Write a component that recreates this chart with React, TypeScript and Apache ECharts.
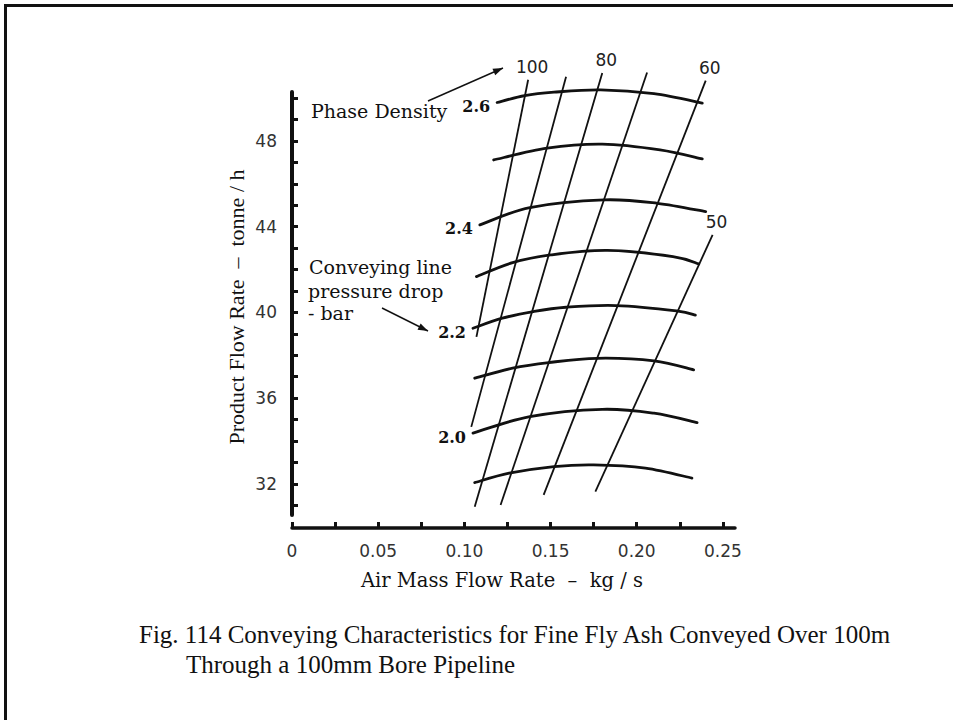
import React, { useEffect, useRef } from "react";
import * as echarts from "echarts";

// Axis ticks and labels
const xTickValues = [0, 0.025, 0.05, 0.075, 0.1, 0.125, 0.15, 0.175, 0.2, 0.225, 0.25];
const xLabelValues = [0, 0.05, 0.1, 0.15, 0.2, 0.25];
const yTickValues = [31, 32, 33, 34, 35, 36, 37, 38, 39, 40, 41, 42, 43, 44, 45, 46, 47, 48, 49, 50];
const yLabelValues = [32, 36, 40, 44, 48];

// Conveying line pressure drop (bar) – one curve per level, [air kg/s, product t/h]
const pressureLevels = [2.6, 2.5, 2.4, 2.3, 2.2, 2.1, 2.0, 1.9];
const labelledPressures = [2.6, 2.4, 2.2, 2.0];
const pressure26 = [[0.119, 49.79], [0.135, 50.11], [0.152, 50.27], [0.179, 50.38], [0.21, 50.2], [0.238, 49.76]];
const pressure25 = [[0.117, 47.11], [0.148, 47.66], [0.18, 47.85], [0.2135, 47.58], [0.238, 47.16]];
const pressure24 = [[0.109, 44.08], [0.138, 44.89], [0.181, 45.25], [0.212, 45.09], [0.24, 44.7]];
const pressure23 = [[0.107, 41.67], [0.128, 42.32], [0.15, 42.68], [0.183, 42.89], [0.221, 42.6], [0.236, 42.26]];
const pressure22 = [[0.105, 39.26], [0.122, 39.73], [0.14, 40.04], [0.159, 40.24], [0.188, 40.32], [0.223, 40.07], [0.234, 39.87]];
const pressure21 = [[0.106, 36.93], [0.128, 37.4], [0.149, 37.66], [0.177, 37.86], [0.21, 37.74], [0.233, 37.32]];
const pressure20 = [[0.105, 34.37], [0.138, 35.14], [0.18, 35.48], [0.21, 35.3], [0.235, 34.86]];
const pressure19 = [[0.106, 32.06], [0.126, 32.5], [0.152, 32.81], [0.175, 32.89], [0.205, 32.74], [0.232, 32.27]];
const pressureCurves = [pressure26, pressure25, pressure24, pressure23, pressure22, pressure21, pressure20, pressure19];

// Phase density lines – bottom and top end points
const phaseDensities = [100, 90, 80, 70, 60, 50];
const labelledDensities = [100, 80, 60, 50];
const density100 = [[0.107, 38.86], [0.137, 50.85]];
const density90 = [[0.104, 34.66], [0.159, 50.99]];
const density80 = [[0.106, 30.94], [0.18, 51.17]];
const density70 = [[0.121, 31.02], [0.206, 51.19]];
const density60 = [[0.146, 31.49], [0.24, 50.81]];
const density50 = [[0.176, 31.64], [0.244, 43.62]];
const densityLines = [density100, density90, density80, density70, density60, density50];

const INK = "#111";
const SERIF = '"DejaVu Serif", serif';
const SANS = '"DejaVu Sans", sans-serif';
const TIMES = '"Liberation Serif", serif';

// Catmull-Rom spline through pixel points, written as cubic Bezier path data
function splinePath(pts: number[][]) {
  const n = pts.length;
  let d = `M${pts[0][0]},${pts[0][1]}`;
  for (let i = 0; i < n - 1; i++) {
    const p0 = pts[Math.max(i - 1, 0)];
    const p1 = pts[i];
    const p2 = pts[i + 1];
    const p3 = pts[Math.min(i + 2, n - 1)];
    const c1x = p1[0] + (p2[0] - p0[0]) / 6;
    const c1y = p1[1] + (p2[1] - p0[1]) / 6;
    const c2x = p2[0] - (p3[0] - p1[0]) / 6;
    const c2y = p2[1] - (p3[1] - p1[1]) / 6;
    d += ` C${c1x},${c1y} ${c2x},${c2y} ${p2[0]},${p2[1]}`;
  }
  return d;
}

function arrowHead(x1: number, y1: number, x2: number, y2: number, len = 10, half = 3.5) {
  const dx = x2 - x1;
  const dy = y2 - y1;
  const l = Math.hypot(dx, dy);
  const ux = dx / l;
  const uy = dy / l;
  const bx = x2 - ux * len;
  const by = y2 - uy * len;
  return [
    [x2, y2],
    [bx - uy * half, by + ux * half],
    [bx + uy * half, by - ux * half],
  ];
}

function arrow(x1: number, y1: number, x2: number, y2: number) {
  return [
    { type: "line", shape: { x1, y1, x2, y2 }, style: { stroke: INK, lineWidth: 1.4 } },
    { type: "polygon", shape: { points: arrowHead(x1, y1, x2, y2) }, style: { fill: INK } },
  ];
}

function text(t: string, x: number, y: number, font: string, align = "left", extra: any = {}) {
  return {
    type: "text",
    x,
    y,
    ...extra,
    style: { text: t, font, fill: INK, textAlign: align, textVerticalAlign: "middle" },
  };
}

export default function App() {
  const ref = useRef<HTMLDivElement>(null);

  useEffect(() => {
    if (!ref.current) return;
    const chart = echarts.init(ref.current, undefined, { renderer: "svg" });

    const pressureSeries = pressureCurves.map((pts, i) => {
      const level = pressureLevels[i];
      const showLabel = labelledPressures.includes(level);
      return {
        type: "custom",
        name: `${level.toFixed(1)} bar`,
        coordinateSystem: "cartesian2d",
        clip: false,
        silent: true,
        z: 3,
        encode: { x: 0, y: 1 },
        data: pts,
        renderItem: (params: any, api: any) => {
          if (params.dataIndex !== 0) return null;
          const px = pts.map((p) => api.coord(p));
          const children: any[] = [
            {
              type: "path",
              shape: { pathData: splinePath(px) },
              style: { fill: "none", stroke: INK, lineWidth: 2.8, lineCap: "round" },
            },
          ];
          if (showLabel) {
            children.push({
              type: "text",
              x: px[0][0] - 7,
              y: px[0][1] + 4,
              style: {
                text: level.toFixed(1),
                font: `bold 16px ${SERIF}`,
                fill: INK,
                textAlign: "right",
                textVerticalAlign: "middle",
              },
            });
          }
          return { type: "group", children };
        },
      };
    });

    const densitySeries = densityLines.map((pts, i) => {
      const density = phaseDensities[i];
      const showLabel = labelledDensities.includes(density);
      return {
        type: "line",
        name: `phase density ${density}`,
        clip: false,
        silent: true,
        symbol: "circle",
        symbolSize: 1,
        itemStyle: { color: "rgba(0,0,0,0)" },
        lineStyle: { color: INK, width: 1.8 },
        z: 2,
        data: pts.map((p, j) =>
          j === pts.length - 1 && showLabel
            ? {
                value: p,
                label: {
                  show: true,
                  position: "top",
                  distance: 4,
                  offset: [4, 0],
                  formatter: String(density),
                  fontFamily: SANS,
                  fontSize: 17,
                  color: "#222",
                },
              }
            : p
        ),
      };
    });

    chart.setOption({
      animation: false,
      backgroundColor: "#fff",
      grid: { left: 292, top: 92, width: 443, height: 423 },
      xAxis: {
        type: "value",
        min: 0,
        max: 0.257,
        offset: 13,
        axisLine: { show: true, lineStyle: { color: INK, width: 3.5 } },
        axisTick: {
          show: true,
          inside: true,
          length: 6,
          customValues: xTickValues,
          lineStyle: { color: INK, width: 3 },
        },
        axisLabel: {
          customValues: xLabelValues,
          margin: 14,
          fontFamily: SANS,
          fontSize: 17,
          color: "#333",
          formatter: (v: number) => (v === 0 ? "0" : v.toFixed(2)),
        },
        splitLine: { show: false },
      },
      yAxis: {
        type: "value",
        min: 30.55,
        max: 50.28,
        axisLine: { show: true, lineStyle: { color: INK, width: 4 } },
        axisTick: {
          show: true,
          inside: true,
          length: 6,
          customValues: yTickValues,
          lineStyle: { color: INK, width: 3 },
        },
        axisLabel: {
          customValues: yLabelValues,
          margin: 15,
          fontFamily: SANS,
          fontSize: 17,
          color: "#333",
        },
        splitLine: { show: false },
      },
      series: [...densitySeries, ...pressureSeries],
      graphic: [
        // page frame
        { type: "line", shape: { x1: 5.5, y1: 4, x2: 5.5, y2: 720 }, style: { stroke: INK, lineWidth: 3 } },
        { type: "line", shape: { x1: 4, y1: 5.5, x2: 953, y2: 5.5 }, style: { stroke: INK, lineWidth: 3 } },
        // annotations
        text("Phase Density", 311, 111, `19px ${SERIF}`),
        ...arrow(428, 101, 503, 68),
        text("Conveying line", 309, 267, `19px ${SERIF}`),
        text("pressure drop", 308, 291, `19px ${SERIF}`),
        text("- bar", 308, 313, `19px ${SERIF}`),
        ...arrow(382, 308, 428, 331),
        // axis names
        text("Air Mass Flow Rate  \u2013  kg / s", 502, 580, `19.5px ${SERIF}`, "center"),
        text("Product Flow Rate  \u2013  tonne / h", 236, 307, `22px ${TIMES}`, "center", {
          rotation: Math.PI / 2,
        }),
        // caption
        text(
          "Fig. 114 Conveying Characteristics for Fine Fly Ash Conveyed Over 100m",
          139,
          634,
          `25px ${TIMES}`
        ),
        text("Through a 100mm Bore Pipeline", 186, 664, `25px ${TIMES}`),
      ],
    });

    return () => chart.dispose();
  }, []);

  return (
    <div
      ref={ref}
      style={{ position: "fixed", left: 0, top: 0, width: 953, height: 720, background: "#fff" }}
    />
  );
}
